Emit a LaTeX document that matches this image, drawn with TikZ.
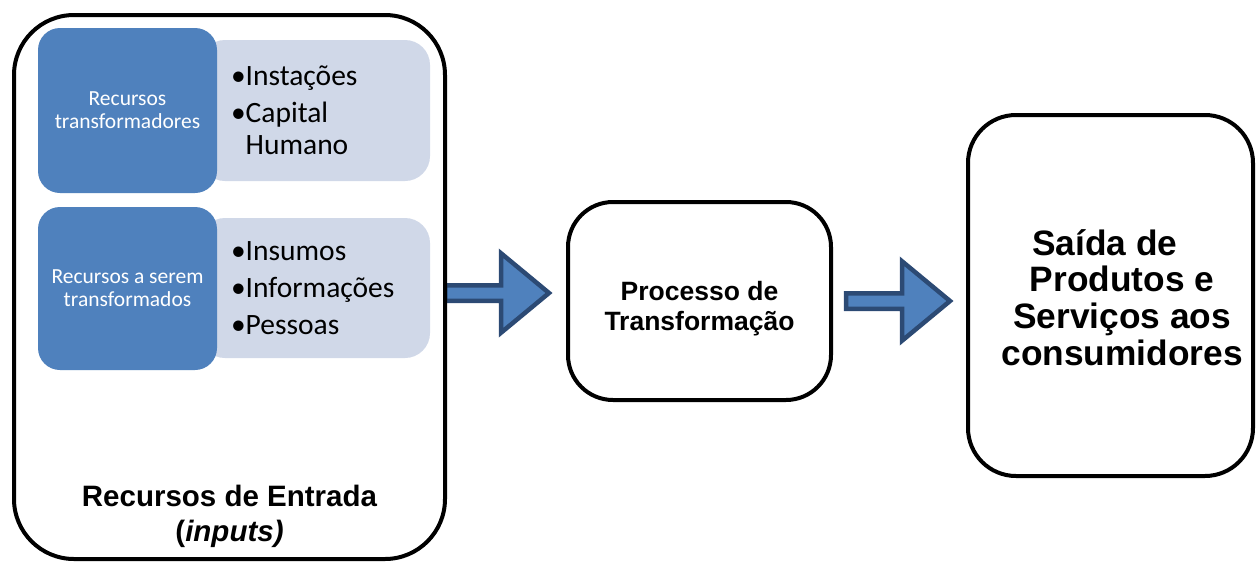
\documentclass[tikz,border=0pt]{standalone}
\usepackage{fontspec}
\setmainfont{Liberation Sans}
\newfontfamily\calib{Carlito}
\usetikzlibrary{calc,backgrounds}
\definecolor{accentblue}{HTML}{4F81BD}
\definecolor{arrowedge}{HTML}{2C4A74}
\definecolor{paleblue}{HTML}{D0D8E8}

% block arrow: starts at the middle of the shaft's left end
\newcommand\blockarrow[1]{%
  \draw[blockarrow] (#1) ++(0,7.75) -- ++(56,0) -- ++(0,32) -- ++(48,-39.75)
    -- ++(-48,-39.75) -- ++(0,32) -- ++(-56,0) -- cycle;}

\begin{document}
\begin{tikzpicture}[x=1pt,y=1pt,
  frame/.style={draw=black, line width=4pt, fill=white, rectangle, inner sep=0pt},
  bluebox/.style={fill=accentblue, rectangle, rounded corners=22, inner sep=0pt,
    minimum width=179, text=white, align=center,
    font=\calib\fontsize{21.5}{23}\selectfont},
  palebox/.style={fill=paleblue, rectangle, rounded corners=25, inner ysep=0pt,
    inner xsep=31, minimum width=230, text width=168, align=left,
    font=\calib\fontsize{29.5}{32}\selectfont},
  blockarrow/.style={draw=arrowedge, fill=accentblue, line width=4.5pt, miter limit=10},
  titletext/.style={font=\fontsize{29.5}{35}\selectfont\bfseries, align=center},
]
\useasboundingbox (0,0) rectangle (1256,-563);

% input resources panel
\node[frame, rounded corners=60, minimum width=431, minimum height=544] (inputs) at (229.5,-287) {};

\node[palebox, minimum height=141] (list1) at (315,-110.5)
  {•Instações\\[5.5pt]•Capital\\\hphantom{•}Humano};
\node[palebox, minimum height=140] (list2) at (315,-288)
  {•Insumos\\[5pt]•Informações\\[5pt]•Pessoas};

\node[bluebox, minimum height=165] (res1) at (127.5,-110.5) {Recursos\\transformadores};
\node[bluebox, minimum height=163] (res2) at (127.5,-288.5) {Recursos a serem\\transformados};

\node[titletext] (intitle) at (229.5,-516) {Recursos de Entrada\\(\textit{inputs)}};

% transformation process
\node[frame, rounded corners=45, minimum width=263, minimum height=198,
  align=center, font=\fontsize{26.5}{30}\selectfont\bfseries] (proc) at (699.5,-301)
  {\rule{0pt}{35pt}Processo de\\Transformação};

% outputs
\node[frame, rounded corners=48, minimum width=285, minimum height=361] (out) at (1110.5,-295.5) {};
\node[font=\fontsize{35.3}{36.7}\selectfont\bfseries, align=center] (outtext) at (1122,-297.5)
  {Saída de\rule{34pt}{0pt}\\Produtos e\\Serviços aos\\consumidores};

% flow arrows
\coordinate (a1) at ($(inputs.east)+(-2,-6)$);
\coordinate (a2) at ($(proc.east)+(13,0)$);
\begin{pgfonlayer}{background}
  \blockarrow{a1}
  \blockarrow{a2}
\end{pgfonlayer}
\end{tikzpicture}
\end{document}
